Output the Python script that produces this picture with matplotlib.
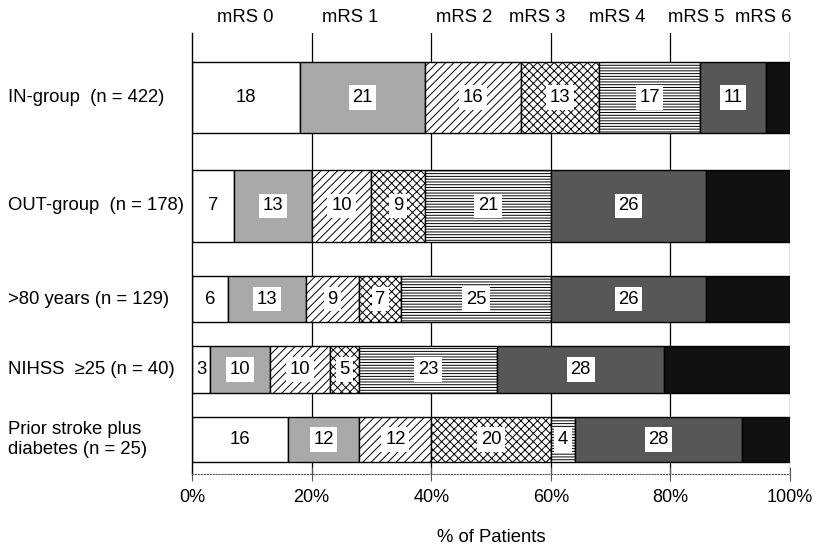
import numpy as np
import matplotlib
matplotlib.use("Agg")
import matplotlib.pyplot as plt
from matplotlib.transforms import blended_transform_factory

plt.rcParams['font.family'] = ['Liberation Sans', 'DejaVu Sans']
plt.rcParams['hatch.linewidth'] = 0.7

groups = ['IN-group  (n = 422)', 'OUT-group  (n = 178)', '>80 years (n = 129)',
          'NIHSS  \u226525 (n = 40)', 'Prior stroke plus\ndiabetes (n = 25)']
categories = ['mRS 0', 'mRS 1', 'mRS 2', 'mRS 3', 'mRS 4', 'mRS 5', 'mRS 6']

# percent of patients per mRS score, one list per category
mrs0 = [18, 7, 6, 3, 16]
mrs1 = [21, 13, 13, 10, 12]
mrs2 = [16, 10, 9, 10, 12]
mrs3 = [13, 9, 7, 5, 20]
mrs4 = [17, 21, 25, 23, 4]
mrs5 = [11, 26, 26, 28, 28]
mrs6 = [4, 14, 14, 21, 8]
values = [mrs0, mrs1, mrs2, mrs3, mrs4, mrs5, mrs6]

# header label positions (in % units) for the mRS names
header_x = [8.9, 26.4, 45.5, 57.7, 71.1, 84.4, 95.6]

# layout: bar centres / heights in pixel rows of the axes
row_y = [64.5, 173, 266, 336.5, 406.5]
row_h = [71, 72, 46, 47, 45]

faces = ['white', '#a9a9a9', 'white', 'white', 'white', '#575757', '#111111']
hatches = [None, None, '////', 'xxxx', '------', None, None]
boxed = [False, True, True, True, True, True, False]
show = [True, True, True, True, True, True, False]

fs = 13.3

fig = plt.figure(figsize=(8.16, 5.47), dpi=100)
ax = fig.add_axes([192 / 816, 1 - 474 / 547, 598 / 816, 441 / 547])

for x in [20, 40, 60, 80, 100]:
    ax.axvline(x, color='black', lw=0.9, zorder=0)

left = np.zeros(len(groups))
for i, vals in enumerate(values):
    vals = np.array(vals, dtype=float)
    ax.barh(row_y, vals, height=row_h, left=left, color=faces[i],
            hatch=hatches[i], edgecolor='black', linewidth=1.0, zorder=2)
    if show[i]:
        for y, l, v in zip(row_y, left, vals):
            bbox = dict(boxstyle='square,pad=0.2', fc='white', ec='none') if boxed[i] else None
            ax.text(l + v / 2, y, f'{int(v)}', ha='center', va='center',
                    fontsize=fs, bbox=bbox, zorder=3)
    left += vals

ax.set_xlim(0, 100)
ax.set_ylim(441, 0)

for s in ['top', 'right']:
    ax.spines[s].set_visible(False)
ax.spines['left'].set_linewidth(1.0)
ax.spines['bottom'].set_linestyle(':')
ax.spines['bottom'].set_color('#555555')

ax.set_xticks([0, 20, 40, 60, 80, 100])
ax.set_xticklabels(['0%', '20%', '40%', '60%', '80%', '100%'])
ax.tick_params(axis='x', direction='inout', length=10, color='#555555',
               labelsize=13, pad=6)
ax.set_yticks([])
ax.set_xlabel('% of Patients', fontsize=fs, labelpad=16)

tr = blended_transform_factory(ax.transData, ax.transAxes)
for name, hx in zip(categories, header_x):
    ax.text(hx, 1 + 15 / 441, name, transform=tr, ha='center', va='center',
            fontsize=fs)

tg = blended_transform_factory(fig.transFigure, ax.transData)
for name, y in zip(groups, row_y):
    ax.text(8 / 816, y, name, transform=tg, ha='left', va='center',
            fontsize=fs, linespacing=1.25)

fig.savefig('out.png', dpi=100)
